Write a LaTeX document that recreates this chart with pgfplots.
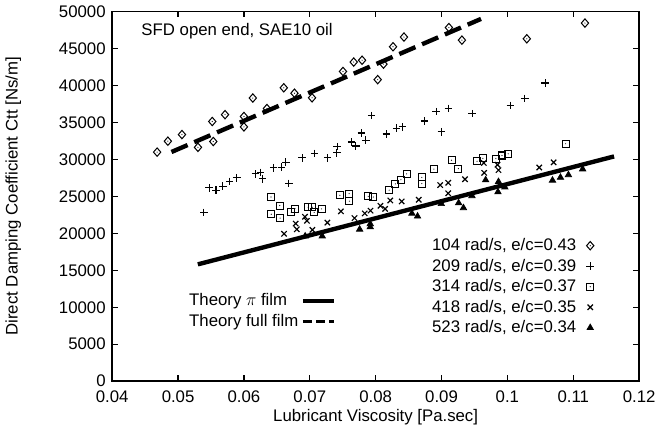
\documentclass[border=0pt]{standalone}
\usepackage{pgfplots}
\pgfplotsset{compat=1.18}
\usepackage{fontspec}
\setmainfont{Liberation Sans}
\pgfdeclareplotmark{sqdot}{%
  \pgfpathrectangle{\pgfpoint{-\pgfplotmarksize}{-\pgfplotmarksize}}{\pgfpoint{2\pgfplotmarksize}{2\pgfplotmarksize}}%
  \pgfusepathqstroke
  \pgfpathcircle{\pgfpointorigin}{0.4pt}\pgfusepathqfill}
\pgfdeclareplotmark{diadot}{%
  \pgfpathmoveto{\pgfpoint{0pt}{1.15\pgfplotmarksize}}%
  \pgfpathlineto{\pgfpoint{\pgfplotmarksize}{0pt}}%
  \pgfpathlineto{\pgfpoint{0pt}{-1.15\pgfplotmarksize}}%
  \pgfpathlineto{\pgfpoint{-\pgfplotmarksize}{0pt}}%
  \pgfpathclose\pgfusepathqstroke
  \pgfpathcircle{\pgfpointorigin}{0.4pt}\pgfusepathqfill}
\begin{document}
\fontsize{11.5}{13.5}\selectfont
\begin{tikzpicture}
\pgfplotsset{
  common/.style={
    width=361.2pt, height=253.4pt, scale only axis,
    xmin=0.04, xmax=0.12, ymin=0, ymax=50000,
  }
}
\begin{axis}[common,
  xtick={0.04,0.05,0.06,0.07,0.08,0.09,0.1,0.11,0.12},
  ytick={0,5000,10000,15000,20000,25000,30000,35000,40000,45000,50000},
  scaled ticks=false,
  xticklabel style={/pgf/number format/fixed, /pgf/number format/precision=2, yshift=-2.5pt},
  yticklabel style={xshift=-0.5pt},
  /pgf/number format/set thousands separator={},
  /pgf/number format/assume math mode=true,
  tick align=inside, tick pos=both, major tick length=4pt,
  axis line style={line width=1pt}, every tick/.style={line width=0.8pt, black},
  xlabel={Lubricant Viscosity [Pa.sec]},
  ylabel={Direct Damping Coefficient Ctt [Ns/m]},
  xlabel style={yshift=3pt},
  ylabel style={yshift=18pt},
  legend style={at={(rel axis cs:0.915,0.395)}, anchor=north east, draw=none, fill=none,
    row sep=0pt, inner sep=0pt, column sep=5pt},
  legend plot pos=right, legend cell align=right,
]
\addplot[line width=3pt, forget plot] coordinates {(0.0530,15800) (0.1162,30400)};
\addplot[line width=3pt, dash pattern=on 12pt off 5pt, forget plot] coordinates {(0.0490,31000) (0.0960,49000)};

\addplot[only marks, mark=diadot, mark size=2.5pt, line width=0.7pt] coordinates {
(0.04682,30980) (0.04845,32460) (0.05059,33356) (0.05302,31630) (0.05519,35124)
(0.05535,32416) (0.05713,36049) (0.06,35800) (0.06,34392) (0.06135,38300)
(0.06349,36878) (0.06605,39682) (0.06767,38950) (0.07034,38328) (0.07504,41892)
(0.07667,43163) (0.07794,43411) (0.08031,40787) (0.08119,42886) (0.08264,45234)
(0.0843,46546) (0.09112,47831) (0.0931,46132) (0.10295,46312) (0.11178,48438)
};
\addlegendentry{104 rad/s, e/c=0.43}
\addplot[only marks, mark=+, mark size=2.6pt, line width=0.8pt] coordinates {
(0.05391,22831) (0.05473,26146) (0.05577,25828) (0.05679,26381) (0.05783,27030)
(0.05891,27513) (0.06175,28038) (0.06253,28246) (0.06284,27375) (0.0645,28867)
(0.06569,28936) (0.06636,29627) (0.06682,26754) (0.06884,30207) (0.07074,30801)
(0.07271,30207) (0.07411,30897) (0.07416,31726) (0.07636,32361) (0.07698,31809)
(0.07783,33563) (0.0785,32596) (0.07938,35911) (0.08163,33425) (0.08318,34212)
(0.08408,34392) (0.08744,35193) (0.08919,36464) (0.08997,33743) (0.09105,36878)
(0.09465,36187) (0.10047,37292) (0.10264,38259) (0.10574,40330)
};
\addlegendentry{209 rad/s, e/c=0.39}
\addplot[only marks, mark=sqdot, mark size=2.4pt, line width=0.7pt] coordinates {
(0.06411,24903) (0.06543,23757) (0.06415,22569) (0.0655,22058) (0.06718,22831)
(0.06775,23342) (0.06977,23522) (0.07039,23522) (0.07067,22831) (0.07178,23301)
(0.07457,25138) (0.07597,25373) (0.07602,24350) (0.07887,25000) (0.07964,24903)
(0.08205,25828) (0.08299,26685) (0.08383,27251) (0.0847,28038) (0.08701,27555)
(0.08701,26726) (0.08884,28687) (0.09152,29875) (0.09256,28756) (0.0954,29737)
(0.09628,30138) (0.09825,30110) (0.09918,30524) (0.10012,30759) (0.10884,32113)
};
\addlegendentry{314 rad/s, e/c=0.37}
\addplot[only marks, mark=x, mark size=2.6pt, line width=0.8pt] coordinates {
(0.06609,19931) (0.06786,21312) (0.06802,20538) (0.06926,22237) (0.06957,21685)
(0.07039,20469) (0.07267,21450) (0.07473,22969) (0.07679,22058) (0.07834,22693)
(0.07922,23066) (0.08073,23715) (0.08144,23301) (0.08222,24447) (0.08395,24309)
(0.08654,24544) (0.0898,26519) (0.09101,26837) (0.09101,25414) (0.09357,27306)
(0.09643,29516) (0.09648,28176) (0.0985,29281) (0.09865,28549) (0.10484,28895)
(0.10702,29599)
};
\addlegendentry{418 rad/s, e/c=0.35}
\addplot[only marks, mark=triangle*, mark size=2.5pt, line width=0.5pt] coordinates {
(0.0693,19613) (0.07189,19613) (0.07757,20538) (0.07918,20856) (0.07918,21270)
(0.0855,22693) (0.08636,22306) (0.08997,23991) (0.0926,24102) (0.09333,23439)
(0.09462,25069) (0.0967,27210) (0.09865,26975) (0.09857,25594) (0.09961,26243)
(0.10685,27168) (0.10806,27555) (0.10927,27900) (0.11143,28687)
};
\addlegendentry{523 rad/s, e/c=0.34}
\node[anchor=north west, inner sep=0pt] at (rel axis cs:0.055,0.968) {SFD open end, SAE10 oil};
\end{axis}
\begin{axis}[common, hide axis,
  legend style={at={(rel axis cs:0.14,0.245)}, anchor=north west, draw=none, fill=none,
    row sep=0pt, inner sep=0pt},
  legend plot pos=right, legend cell align=left,
  legend image code/.code={\draw[#1] (0cm,0cm) -- (0.75cm,0cm);},
]
\addlegendimage{line width=2.4pt}
\addlegendentry{Theory $\pi$ film}
\addlegendimage{line width=2.4pt, dash pattern=on 6pt off 3pt}
\addlegendentry{Theory full film}
\end{axis}
\end{tikzpicture}
\end{document}
